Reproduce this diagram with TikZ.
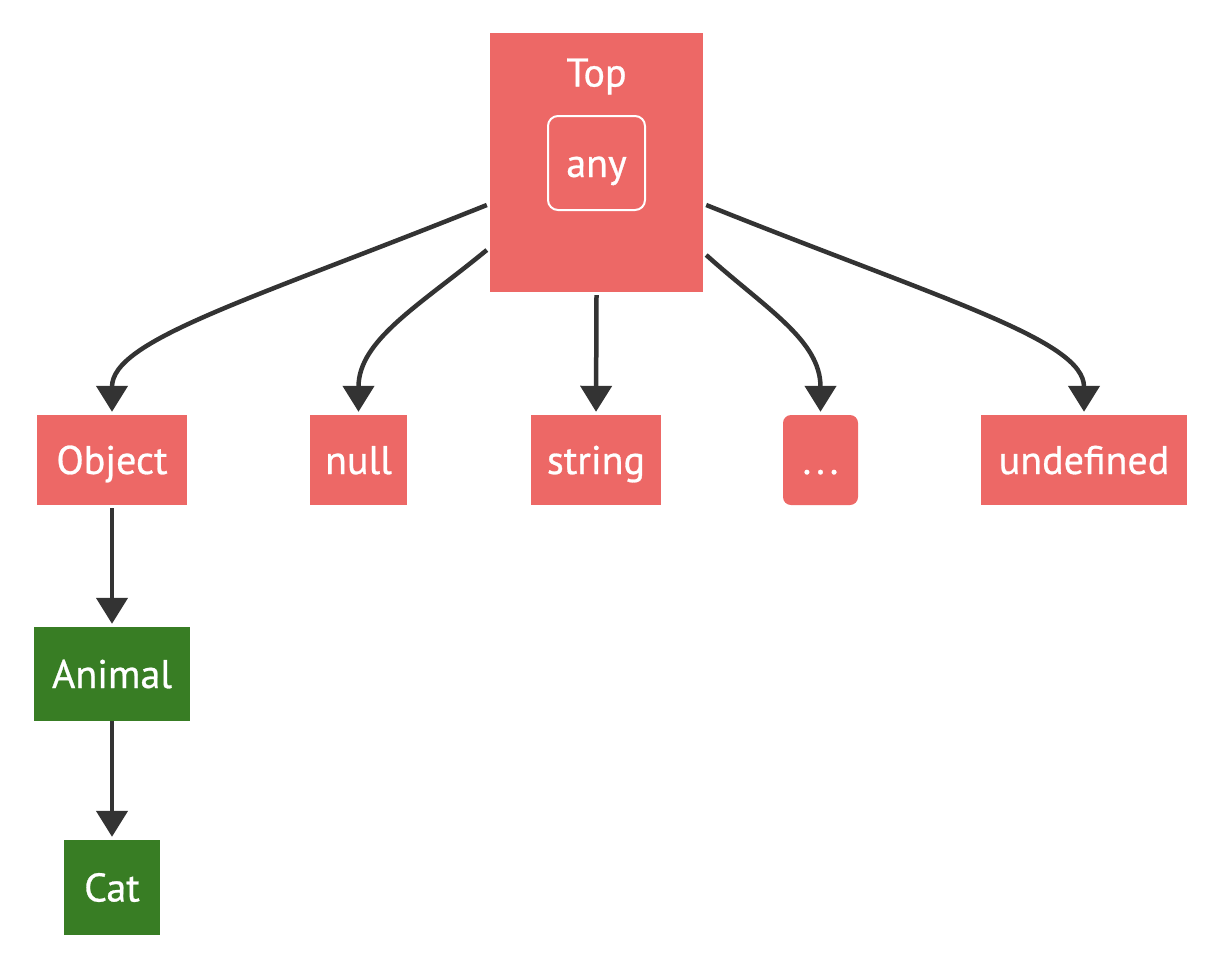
\documentclass[tikz,border=0pt]{standalone}
\usepackage{fontspec}
\setmainfont{PT Sans}[FakeBold=0.7]
\usetikzlibrary{arrows.meta}
\definecolor{typered}{HTML}{ED6866}
\definecolor{typegreen}{HTML}{387D24}
\definecolor{edgegray}{HTML}{333333}
\tikzset{
  typebox/.style={fill=typered, text=white, inner sep=0pt,
    font=\fontsize{40}{48}\selectfont, text height=28pt, text depth=0pt},
  classbox/.style={typebox, fill=typegreen},
  subarrow/.style={draw=edgegray, line width=4.5pt,
    -{Triangle[length=26pt,width=31pt]}, shorten >=3pt}
}
\begin{document}
\begin{tikzpicture}[x=1pt,y=-1pt]
  \useasboundingbox (0,0) rectangle (1230,970);

  \node[typebox, minimum width=213pt, minimum height=259pt] (Top) at (596.5,162.5) {};
  \node[typebox, fill=none] (toplabel) at (596.5,72.5) {Top};
  \node[typebox, draw=white, line width=2pt, rounded corners=10pt,
    minimum width=97pt, minimum height=94pt] (any) at (596.5,163) {any};

  \foreach \name/\txt/\x/\w in {object/Object/112/150, null/null/358.5/97,
      string/string/596/130, undefined/undefined/1084/206}
    \node[typebox, minimum width=\w pt, minimum height=90pt] (\name) at (\x,460) {\txt};
  \node[typebox, rounded corners=8pt, minimum width=75pt, minimum height=90pt]
    (more) at (820.5,460) {.\kern5pt.\kern5pt.};

  \node[classbox, minimum width=156pt, minimum height=94pt] (animal) at (112,674) {Animal};
  \node[classbox, minimum width=96pt, minimum height=95pt] (cat) at (112,887.5) {Cat};

  \draw[subarrow] ([xshift=-3pt,yshift=-42.5pt]Top.west)
    .. controls (250,300) and (112,340) .. (object.north);
  \draw[subarrow] ([xshift=-3pt,yshift=-87.5pt]Top.west)
    .. controls (420,305) and (358.5,340) .. (null.north);
  \draw[subarrow] ([yshift=-3pt]Top.south) -- (string.north);
  \draw[subarrow] ([xshift=3pt,yshift=-92.5pt]Top.east)
    .. controls (765,308) and (820.5,340) .. (more.north);
  \draw[subarrow] ([xshift=3pt,yshift=-42.5pt]Top.east)
    .. controls (943,300) and (1084,340) .. (undefined.north);

  \draw[subarrow] ([yshift=-3pt]object.south) -- (animal.north);
  \draw[subarrow] (animal.south) -- (cat.north);
\end{tikzpicture}
\end{document}
